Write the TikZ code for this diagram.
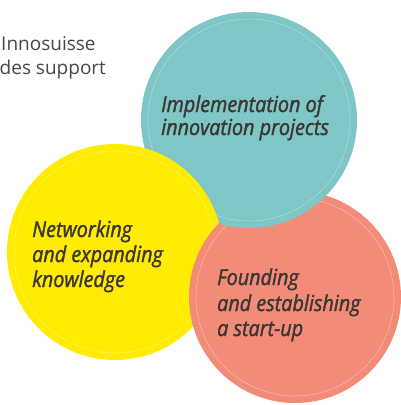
\documentclass[tikz,border=0pt]{standalone}
\usepackage{fontspec}
\setmainfont{Open Sans}
\newfontfamily\handfont{Open Sans}[FakeStretch=0.9, ItalicFeatures={FakeBold=1.5}]
\definecolor{cTeal}{HTML}{7FC6C6}
\definecolor{cYellow}{HTML}{FFEC00}
\definecolor{cSalmon}{HTML}{F28C78}
\definecolor{ink}{HTML}{3B3734}
\definecolor{grayink}{HTML}{4A4542}
\begin{document}
\begin{tikzpicture}[x=1pt,y=-1pt]
\tikzset{
  inring/.style={draw=white, draw opacity=0.4, line width=0.5pt},
  hand/.style={font=\handfont\itshape\fontsize{22}{24}\selectfont, text=ink, inner sep=0pt, anchor=base west},
  intro/.style={font=\fontsize{19}{24}\selectfont, text=grayink, inner sep=0pt, anchor=base west}
}
\useasboundingbox (0,0) rectangle (400,405);
\coordinate (cS) at (295,297);
\coordinate (cT) at (249,120);
\coordinate (cY) at (115,252);
% salmon
\fill[cSalmon] (cS) circle[radius=106pt];
\draw[inring] (cS) circle[radius=99pt];
% teal
\fill[cTeal] (cT) circle[radius=108pt];
\draw[inring] (cT) circle[radius=101pt];
% yellow
\fill[cYellow] (cY) circle[radius=108pt];
\draw[inring] (cY) circle[radius=101pt];
% salmon over yellow
\begin{scope}
\clip (cY) circle[radius=108.5pt];
\fill[cSalmon] (cS) circle[radius=106pt];
\draw[inring] (cS) circle[radius=99pt];
\end{scope}
% intro text
\node[intro] (i1) at (1,50.7) {Innosuisse};
\node[intro] (i2) at (-0.5,74) {des support};
% teal text
\node[hand] (t1) at (161,112) {Implementation of};
\node[hand] (t2) at (161,135) {innovation projects};
% yellow text
\node[hand] (y1) at (32,237) {Networking};
\node[hand] (y2) at (32,262) {and expanding};
\node[hand] (y3) at (32,287) {knowledge};
% salmon text
\node[hand] (s1) at (217,285) {Founding};
\node[hand] (s2) at (217,311) {and establishing};
\node[hand] (s3) at (217,336) {a start-up};
\end{tikzpicture}
\end{document}
